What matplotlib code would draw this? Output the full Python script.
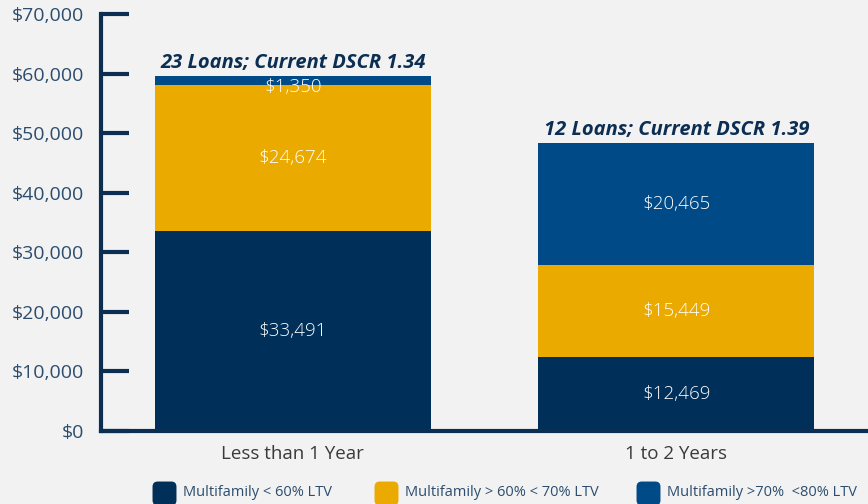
import matplotlib as mpl
mpl.use('Agg')
import matplotlib.pyplot as plt
from matplotlib.patches import FancyBboxPatch

categories = ['Less than 1 Year', '1 to 2 Years']
series_names = ['Multifamily < 60% LTV', 'Multifamily > 60% < 70% LTV', 'Multifamily >70%  <80% LTV']
low_ltv = [33491, 12469]
mid_ltv = [24674, 15449]
high_ltv = [1350, 20465]
notes = ['23 Loans; Current DSCR 1.34', '12 Loans; Current DSCR 1.39']
yticks = [0, 10000, 20000, 30000, 40000, 50000, 60000, 70000]

colors = ['#00305a', '#eaaa00', '#004a87']
bg = '#f2f2f2'
navy = '#0b2e52'
tick_col = '#2c4d6e'

plt.rcParams['font.family'] = ['Open Sans', 'DejaVu Sans']

W, H = 868, 504
fig = plt.figure(figsize=(W / 100, H / 100), dpi=100, facecolor=bg)
ax = fig.add_axes([101 / W, 73 / H, 767 / W, 417 / H], facecolor=bg)

x = list(range(len(categories)))
bottom = [0, 0]
for vals, col in zip([low_ltv, mid_ltv, high_ltv], colors):
    ax.bar(x, vals, width=0.72, bottom=bottom, color=col, edgecolor='none')
    for xi, v, b in zip(x, vals, bottom):
        # thin segments get their label nudged down a little, like the original
        dy = -5 if v < 3000 else 0
        ax.annotate(f'${v:,}', (xi, b + v / 2), xytext=(0, dy), textcoords='offset points',
                    ha='center', va='center', color='white', fontsize=13.5,
                    fontweight='light', zorder=5)
    bottom = [b + v for b, v in zip(bottom, vals)]

for xi, tot, note in zip(x, bottom, notes):
    ax.text(xi, tot + 500, note, ha='center', va='bottom', color=navy,
            fontsize=14.5, fontweight='bold', fontstyle='italic')

ax.set_xlim(-0.5, 1.5)
ax.set_ylim(0, 70000)
ax.set_yticks(yticks)
ax.set_yticklabels([f'${t:,}' for t in yticks], color=tick_col, fontsize=14)
ax.set_xticks(x)
ax.set_xticklabels(categories, color='#3a3a3a', fontsize=13.5)
ax.tick_params(axis='x', length=0, pad=10)
ax.tick_params(axis='y', direction='in', length=20, width=3, color=navy, pad=12)

for s in ['top', 'right']:
    ax.spines[s].set_visible(False)
for s in ['left', 'bottom']:
    ax.spines[s].set_color(navy)
    ax.spines[s].set_linewidth(3)

# legend drawn by hand: rounded swatches along the bottom edge
leg_x = [154, 376, 638]
for lx, col, name in zip(leg_x, colors, series_names):
    fig.patches.append(FancyBboxPatch(((lx + 2) / W, 2 / H), 17 / W, 17 / H,
                                      boxstyle='round,pad=0.004,rounding_size=0.006',
                                      transform=fig.transFigure, facecolor=col,
                                      edgecolor='none', mutation_aspect=W / H))
    fig.text((lx + 29) / W, 11 / H, name, ha='left', va='center',
             color=tick_col, fontsize=10.5)

fig.savefig('out.png', dpi=100, facecolor=bg)
